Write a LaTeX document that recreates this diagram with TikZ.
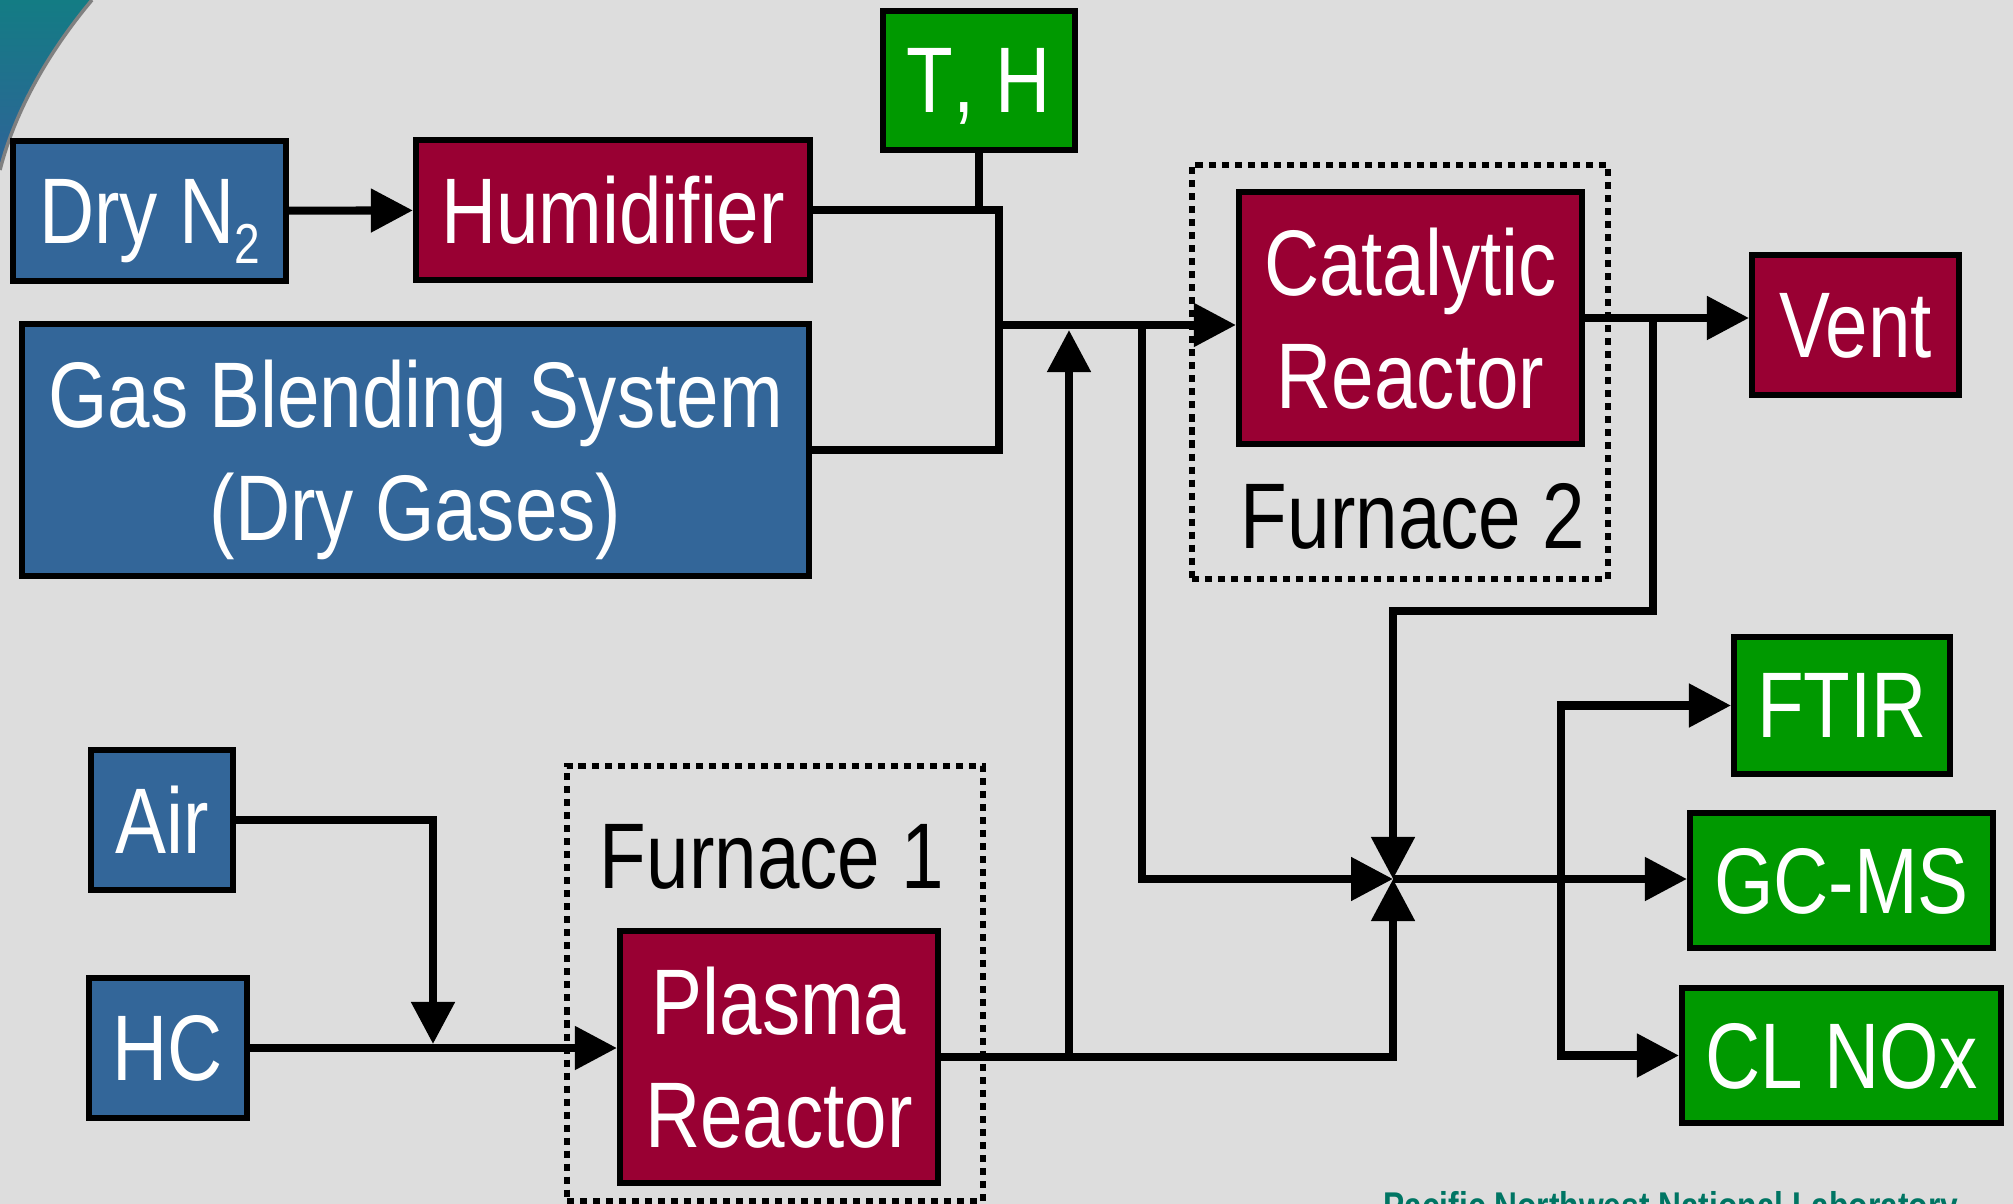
\documentclass[tikz,border=0pt]{standalone}
\usepackage{fontspec}
\setmainfont[FakeStretch=0.82]{Liberation Sans}
\usepackage{tikz}
\usetikzlibrary{arrows.meta,positioning,calc}
\definecolor{fondo}{HTML}{DDDDDD}
\definecolor{azul}{HTML}{336699}
\definecolor{granate}{HTML}{990033}
\definecolor{verde}{HTML}{009900}
\definecolor{petroleo}{HTML}{137C84}
\definecolor{petroleo2}{HTML}{2F6398}
\definecolor{pnnl}{HTML}{007563}

\begin{document}
\begin{tikzpicture}[x=0.01cm,y=-0.01cm,
  font=\fontsize{26.5}{32}\selectfont,
  caja/.style={draw=black,line width=1.7pt,text=white,align=center,inner sep=0pt,text depth=0pt},
  entrada/.style={caja,fill=azul},
  reactor/.style={caja,fill=granate},
  medida/.style={caja,fill=verde},
  horno/.style={draw=black,line width=1.8pt,dash pattern=on 2pt off 1.7pt,inner sep=0pt},
  linea/.style={line width=2.3pt,black},
  flecha/.style={linea,-{Triangle[length=4.2mm,width=4.2mm]}}]
\clip (0,0) rectangle (2013,1204);
\fill[fondo] (0,0) rectangle (2013,1204);
\shade[top color=petroleo,bottom color=petroleo2] (0,0) -- (92,0) .. controls (50,50) and (15,110) .. (0,170) -- cycle;
\draw[gray,line width=1pt] (92,0) .. controls (50,50) and (15,110) .. (0,170);
% hornos
\node[horno,minimum width=4.16cm,minimum height=4.14cm] (horno2) at (1400,372) {};
\node[horno,minimum width=4.16cm,minimum height=4.35cm] (horno1) at (775,983.5) {};
\node[anchor=base] (rotulo2) at (1413,549) {Furnace 2};
\node[anchor=base] (rotulo1) at (772,888) {Furnace 1};
% cajas
\node[entrada,minimum width=2.73cm,minimum height=1.40cm] (dry) at (149.5,211) {Dry N\smash{\raisebox{-0.2cm}{\fontsize{16}{16}\selectfont 2}}};
\node[reactor,minimum width=3.94cm,minimum height=1.40cm] (hum) at (613,210) {Humidifier};
\node[medida,minimum width=1.92cm,minimum height=1.39cm] (th) at (979,80.5) {T\smash{,} H};
\node[entrada,minimum width=7.87cm,minimum height=2.52cm] (gbs) at (415.5,450) {Gas Blending System\\(Dry Gases)};
\node[reactor,minimum width=3.43cm,minimum height=2.52cm] (cat) at (1410.5,318) {Catalytic\\Reactor};
\node[reactor,minimum width=2.07cm,minimum height=1.40cm] (vent) at (1855.5,325) {Vent};
\node[entrada,minimum width=1.42cm,minimum height=1.40cm] (air) at (162,820) {Air};
\node[entrada,minimum width=1.58cm,minimum height=1.40cm] (hc) at (168,1048) {HC};
\node[reactor,minimum width=3.18cm,minimum height=2.52cm] (plasma) at (779,1057) {Plasma\\Reactor};
\node[medida,minimum width=2.16cm,minimum height=1.37cm] (ftir) at (1842,705.5) {FTIR};
\node[medida,minimum width=3.03cm,minimum height=1.35cm] (gcms) at (1841.5,880.5) {GC-MS};
\node[medida,minimum width=3.19cm,minimum height=1.35cm] (clnox) at (1841.5,1055.5) {CL NOx};
\node[font=\fontsize{11}{11}\selectfont\bfseries,text=pnnl,anchor=base west] (lab) at (1371,1219) {Pacific Northwest National Laboratory};
% puntos de union
\coordinate (colector) at (999,325);
\coordinate (subida) at (1069,330);
\coordinate (bajada) at (1142,325);
\coordinate (nudo) at (1393,879);
\coordinate (retorno) at (1393,611);
\coordinate (ramal) at (1653,318);
\coordinate (reparto) at (1561,879);
\coordinate (mezcla) at (433,1044);
% conexiones
\draw[flecha] (dry) -- (hum);
\draw[linea] (th.south) -- (th.south |- hum.east);
\draw[linea] (hum.east) -| (colector) |- (gbs.east);
\draw[flecha] (colector) -- (colector -| cat.west);
\draw[flecha] (subida |- plasma.east) -- (subida);
\draw[flecha] (bajada) |- (nudo);
\draw[flecha] (cat.east) -- (cat.east -| vent.west);
\draw[flecha] (ramal) |- (retorno) -- (nudo);
\draw[flecha] (plasma.east) -| (nudo);
\draw[flecha] (nudo) -- (nudo -| gcms.west);
\draw[flecha] (reparto) |- (ftir.west);
\draw[flecha] (reparto) |- (clnox.west);
\draw[flecha] (air.east) -| (mezcla);
\draw[flecha] (hc.east) -- (hc.east -| plasma.west);
\end{tikzpicture}
\end{document}
